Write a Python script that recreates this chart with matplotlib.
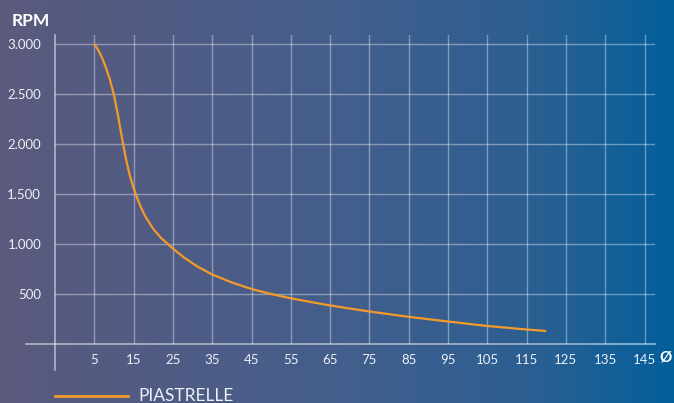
import numpy as np
import matplotlib
matplotlib.use("Agg")
import matplotlib.pyplot as plt
from matplotlib.lines import Line2D
from matplotlib.colors import LinearSegmentedColormap

plt.rcParams['font.family'] = ['Lato', 'DejaVu Sans']

# Data
diameter = [5, 6, 7, 8, 9, 10, 11, 12, 13, 14, 15, 16, 17, 18, 20, 22, 25, 28, 31,
            35, 40, 45, 50, 55, 65, 75, 85, 95, 105, 115, 120]
rpm = [3000, 2940, 2860, 2760, 2640, 2490, 2290, 2070, 1860, 1690, 1560, 1450, 1355,
       1275, 1150, 1060, 955, 860, 780, 695, 615, 550, 500, 457, 385, 325, 272, 225,
       180, 145, 130]
x_ticks = [5, 15, 25, 35, 45, 55, 65, 75, 85, 95, 105, 115, 125, 135, 145]
y_ticks = [500, 1000, 1500, 2000, 2500, 3000]
y_ticklabels = ["500", "1.000", "1.500", "2.000", "2.500", "3.000"]
series_name = "PIASTRELLE"

W, H = 674, 403
fig = plt.figure(figsize=(W / 100, H / 100), dpi=100)

# background gradient
bg = fig.add_axes([0, 0, 1, 1], zorder=-10)
cmap = LinearSegmentedColormap.from_list(
    "bg", [(0, "#5b5a7d"), (0.5, "#445e8c"), (0.8, "#2a5f92"), (1.0, "#03609c")])
grad = np.linspace(0, 1, 512).reshape(1, -1)
bg.imshow(grad, aspect="auto", cmap=cmap, extent=[0, 1, 0, 1])
bg.set_axis_off()

# main axes: px 55..655 horizontally, 35..344 vertically
ax = fig.add_axes([55 / W, (H - 344) / H, 600 / W, 309 / H])
ax.patch.set_alpha(0)
ax.set_xlim(-5, -5 + 600 / 3.93)
ax.set_ylim(0, 3090)
for s in ax.spines.values():
    s.set_visible(False)

grid_col = (1, 1, 1, 0.38)
for xv in x_ticks:
    ax.axvline(xv, color=grid_col, lw=1.0, zorder=1)
for yv in y_ticks:
    ax.axhline(yv, color=grid_col, lw=1.0, zorder=1)

ax.plot(diameter, rpm, color="#f39a2b", lw=1.6, zorder=3,
        solid_capstyle="butt", solid_joinstyle="round")

ax.set_xticks(x_ticks)
ax.set_xticklabels([str(v) for v in x_ticks])
ax.set_yticks(y_ticks)
ax.set_yticklabels(y_ticklabels)
ax.tick_params(length=0, colors="white", labelsize=9.5)
ax.tick_params(axis="x", pad=7)
ax.tick_params(axis="y", pad=10)
for lab in ax.get_xticklabels() + ax.get_yticklabels():
    lab.set_color("#eef0f6")

# axis lines (extended beyond plot)
axis_col = (1, 1, 1, 0.55)
fig.add_artist(Line2D([55 / W, 55 / W], [(H - 35) / H, (H - 370) / H],
                      color=axis_col, lw=1.2))
fig.add_artist(Line2D([26 / W, 655 / W], [(H - 344) / H, (H - 344) / H],
                      color=axis_col, lw=1.2))

# labels
fig.text(12 / W, (H - 21) / H, "RPM", color="white", fontsize=12.5,
         fontweight="bold", va="center", ha="left")
fig.text(666 / W, (H - 357) / H, "Ø", color="white", fontsize=11,
         fontweight="bold", va="center", ha="center")

# legend
fig.add_artist(Line2D([55 / W, 128 / W], [(H - 396) / H, (H - 396) / H],
                      color="#f39a2b", lw=2))
fig.text(138 / W, (H - 396) / H, series_name, color="#eef0f6", fontsize=12.5,
         va="center", ha="left")

fig.savefig("out.png", dpi=100)
